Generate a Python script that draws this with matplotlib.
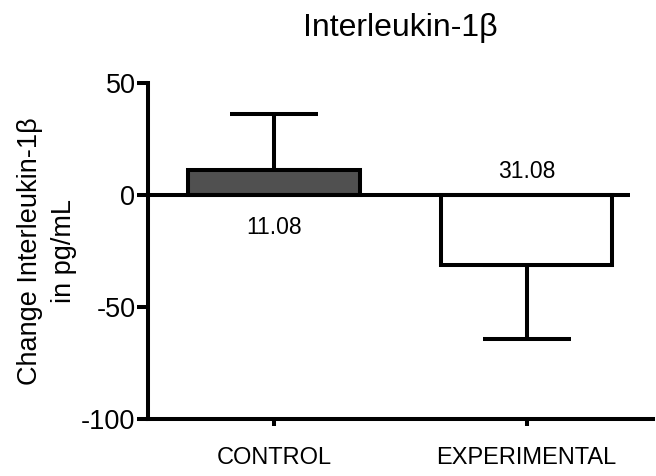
import matplotlib
matplotlib.use("Agg")
import matplotlib.pyplot as plt

plt.rcParams['font.family'] = ['Liberation Sans', 'DejaVu Sans']

# data
groups = ['CONTROL', 'EXPERIMENTAL']
means = [11.08, -31.08]
errors = [25.0, 33.0]
labels = ['11.08', '31.08']
label_y = [-14.7, 10.7]
fills = ['#505050', 'white']

lw = 2.9

fig = plt.figure(figsize=(6.56, 4.76), dpi=100)
ax = fig.add_axes([0.2256, 0.1197, 0.7694, 0.7059])

x = list(range(len(groups)))
ax.bar(x, means, width=0.68, color=fills, edgecolor='black', linewidth=lw, zorder=2)

# one-sided error bars (away from zero)
for xi, m, e in zip(x, means, errors):
    if m >= 0:
        yerr = [[0], [e]]
    else:
        yerr = [[e], [0]]
    ax.errorbar(xi, m, yerr=yerr, fmt='none', ecolor='black',
                elinewidth=lw, capsize=31.5, capthick=lw, zorder=1)

for xi, txt, ly in zip(x, labels, label_y):
    ax.text(xi, ly, txt, ha='center', va='center', fontsize=16.5)

# zero line
ax.plot([-0.5, 1.41], [0, 0], color='black', linewidth=lw, zorder=3,
        solid_capstyle='butt')

ax.set_xlim(-0.5, 1.5)
ax.set_ylim(-100, 50)
ax.set_yticks([50, 0, -50, -100])
ax.set_yticklabels(['50', '0', '-50', '-100'])
ax.set_xticks(x)
ax.set_xticklabels(groups)

for s in ['top', 'right']:
    ax.spines[s].set_visible(False)
for s in ['left', 'bottom']:
    ax.spines[s].set_linewidth(lw)

ax.tick_params(axis='y', length=8, width=lw, pad=1, labelsize=19.5)
ax.tick_params(axis='x', length=5, width=lw, pad=15, labelsize=17)

ax.set_ylabel('Change Interleukin-1β\nin pg/mL', fontsize=19.5, labelpad=3,
              linespacing=1.4)
ax.set_title('Interleukin-1β', fontsize=23, pad=34)

fig.savefig('out.png', dpi=100)
